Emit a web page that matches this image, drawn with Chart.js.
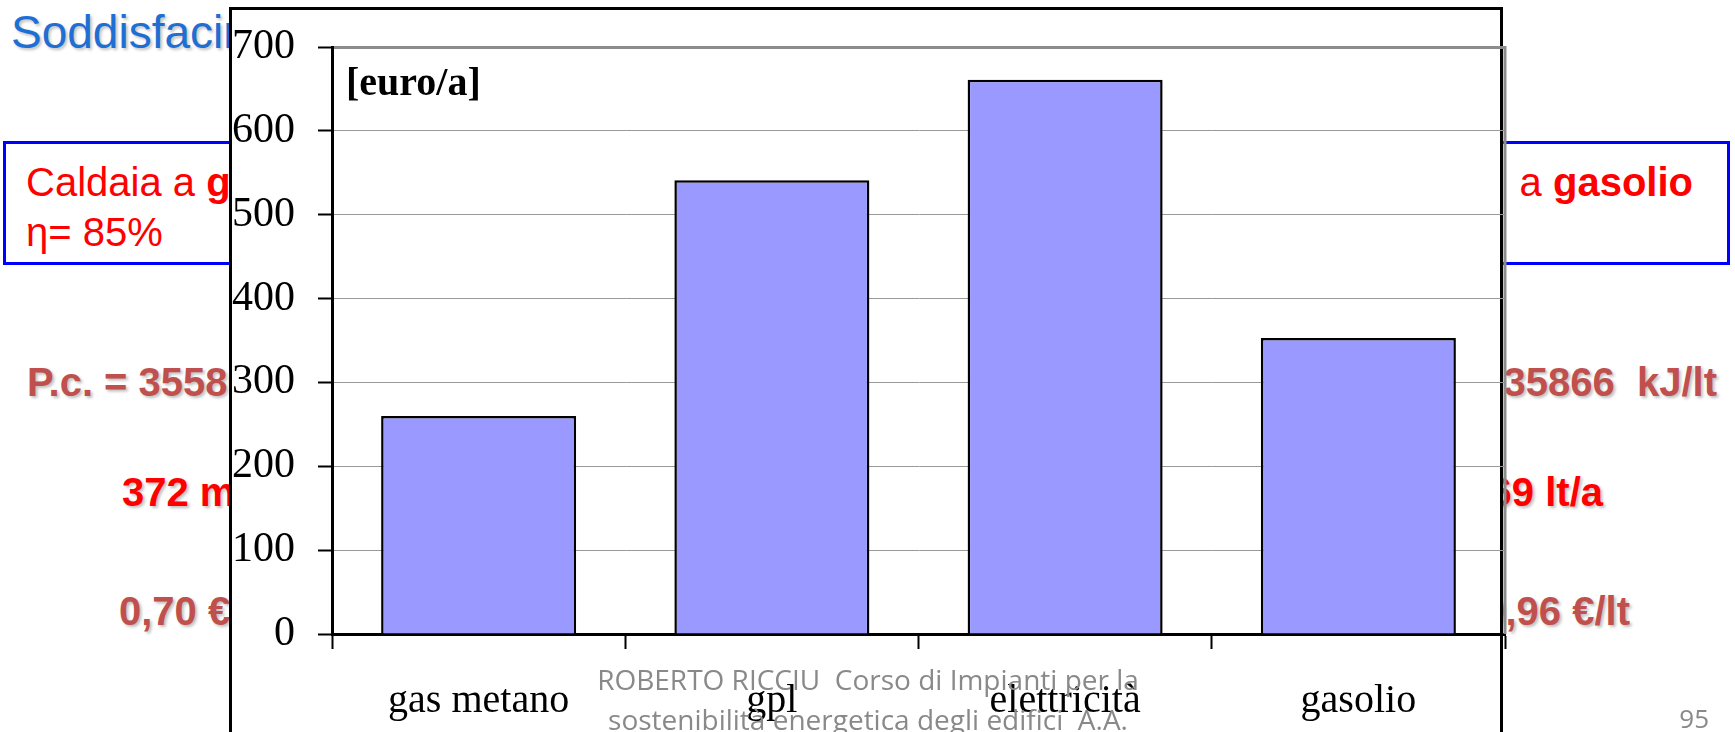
<!DOCTYPE html>
<html lang="it">
<head>
<meta charset="utf-8">
<script src="https://cdn.jsdelivr.net/npm/chart.js@4.4.1/dist/chart.umd.min.js"></script>
<style>
  body { margin: 0; width: 1735px; height: 732px; overflow: hidden; background: #fff; position: relative; font-family: "Liberation Sans", Arial, sans-serif; }
  .t { position: absolute; white-space: pre; font-size: 40px; line-height: 40px; }
  .b { font-weight: bold; text-shadow: 2px 2px 3px rgba(0,0,0,.25); }
  .rose { color: #c0504d; }
  .red { color: #ff0000; }
  #title { left: 11px; top: 9px; font-size: 46px; line-height: 46px; color: #1d6fd4; text-shadow: 2px 2px 3px rgba(0,0,0,.25); }
  #blueBox { position: absolute; left: 3px; top: 141px; width: 1721px; height: 118px; border: 3px solid #0000ff; }
  #boilerL { left: 26px; top: 157px; line-height: 50px; }
  #boilerR { right: 42px; top: 157px; line-height: 50px; }
  #chartBox { position: absolute; left: 229px; top: 7px; width: 1268px; height: 800px; border: 3px solid #000; background: #fff; }
  #chart { position: absolute; left: 232px; top: 10px; }
  #footer { position: absolute; left: 0; top: 659px; width: 1736px; text-align: center; white-space: pre; font-family: "Open Sans", sans-serif; font-size: 28px; line-height: 40px; color: #898989; }
  #page { position: absolute; right: 26px; top: 705px; font-family: "Open Sans", sans-serif; font-size: 26px; line-height: 26px; color: #898989; }
</style>
</head>
<body>
<div class="t" id="title">Soddisfacimento del fabbisogno</div>
<div id="blueBox"></div>
<div class="t red" id="boilerL">Caldaia a <b>gas metano</b><br>η= 85%</div>
<div class="t red" id="boilerR">Caldaia   a <b>gasolio</b></div>

<div class="t b rose" style="left:27px; top:362px;">P.c. = 35580 kJ/m³</div>
<div class="t b rose" style="right:18px; top:362px;">P.c. = 35866  kJ/lt</div>
<div class="t b red" style="left:122px; top:472px;">372 m³/a</div>
<div class="t b red" style="right:132px; top:472px;">369 lt/a</div>
<div class="t b rose" style="left:119px; top:591px;">0,70 €/m³</div>
<div class="t b rose" style="right:105px; top:591px;">0,96 €/lt</div>

<div id="chartBox"></div>
<canvas id="chart" width="1278" height="722"></canvas>

<div id="footer">ROBERTO RICCIU  Corso di Impianti per la
sostenibilità energetica degli edifici  A.A.</div>
<div id="page">95</div>

<script>
const fuels = ["gas metano", "gpl", "elettricità", "gasolio"];
const costs = [260, 541, 661, 353];
const unitLabel = "[euro/a]";
const yMax = 700;
const yStep = 100;

const serif = "'Liberation Serif', 'Times New Roman', serif";

// right border of the plot and the unit caption in its top-left corner
const frame = {
  id: "frame",
  beforeDatasetsDraw(c) {
    const { ctx, chartArea: a } = c;
    ctx.save();
    ctx.strokeStyle = "#8c8c8c";
    ctx.lineWidth = 3;
    ctx.beginPath();
    ctx.moveTo(a.right, a.top - 1);
    ctx.lineTo(a.right, a.bottom);
    ctx.stroke();
    ctx.fillStyle = "#000";
    ctx.font = "bold 40px " + serif;
    ctx.textBaseline = "alphabetic";
    ctx.fillText(unitLabel, a.left + 14, a.top + 48);
    ctx.restore();
  }
};

new Chart(document.getElementById("chart"), {
  type: "bar",
  data: {
    labels: fuels,
    datasets: [{
      data: costs,
      backgroundColor: "#9999ff",
      borderColor: "#000",
      borderWidth: 2.5,
      barPercentage: 0.665,
      categoryPercentage: 1
    }]
  },
  plugins: [frame],
  options: {
    responsive: false,
    animation: false,
    layout: { padding: { top: 37, right: 5, left: 0, bottom: 0 } },
    plugins: { legend: { display: false }, tooltip: { enabled: false } },
    scales: {
      x: {
        afterFit: s => { s.height = 98; },
        border: { display: true, color: "#000", width: 3 },
        grid: { offset: true, drawOnChartArea: false, drawTicks: true, tickLength: 15, tickColor: "#000", tickWidth: 2 },
        ticks: { color: "#000", font: { family: serif, size: 40 }, padding: 28, maxRotation: 0 }
      },
      y: {
        min: 0,
        max: yMax,
        // fixed axis width; the top label fits inside the layout padding
        afterFit: s => { s.width = 100; s.paddingTop = 0; },
        border: { display: true, color: "#000", width: 3 },
        grid: {
          color: c => c.tick && c.tick.value === yMax ? "#8c8c8c" : "#999999",
          lineWidth: c => c.tick && c.tick.value === yMax ? 3 : 1,
          tickLength: 14,
          tickColor: "#000",
          tickWidth: 2
        },
        ticks: { stepSize: yStep, color: "#000", font: { family: serif, size: 42 }, padding: 23 }
      }
    }
  }
});
</script>
</body>
</html>
